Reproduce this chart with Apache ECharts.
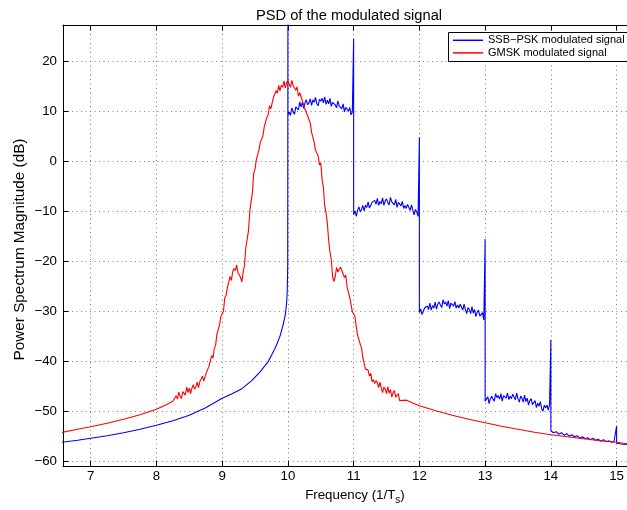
<!DOCTYPE html>
<html><head><meta charset="utf-8">
<script src="https://cdn.jsdelivr.net/npm/echarts@6/dist/echarts.min.js"></script>
<style>html,body{margin:0;padding:0;background:#fff}#c{width:627px;height:510px}</style>
</head><body><div id="c"></div>
<script>
const FONT = '"Liberation Sans", Arial, Helvetica, sans-serif';
const titleText = 'PSD of the modulated signal';
const yName = 'Power Spectrum Magnitude (dB)';
const seriesNames = ['SSB\u2212PSK modulated signal', 'GMSK modulated signal'];
const xMin = 6.579, xMax = 15.157, yMin = -60.85, yMax = 27.24;

// ---- SSB-PSK (blue) ----
const ssbSkirtFreq = [6.5, 6.8, 7.0, 7.25, 7.5, 7.75, 8.0, 8.25, 8.5, 8.75, 9.0, 9.15, 9.3, 9.45, 9.58, 9.7, 9.78, 9.84, 9.885, 9.93, 9.96, 9.98, 9.99, 9.997];
const ssbSkirtDb   = [-56.2, -55.7, -55.3, -54.8, -54.2, -53.5, -52.7, -51.8, -50.7, -49.2, -47.3, -46.4, -45.4, -43.8, -42.0, -40.0, -38.0, -36.3, -34.7, -32.5, -30.7, -28.4, -26.0, -21.0];
const ssbSpikeFreq = [10, 11, 12, 13, 14, 15];
const ssbSpikeTopDb = [28, 24.5, 4.8, -15.5, -35.7, -52.9];
const ssbAfterSpikeDb = [9.3, -10.6, -30.2, -47.9, -53.8, -56.3];
const ssbBandStep = [0.02, 0.02, 0.02, 0.02, 0.04];
const ssbBand1Db = [9.8,9.2,10.7,9.9,9.4,10.9,10.8,10.3,11.9,10.9,11.8,10.6,11.7,12.3,11.3,11.7,12.5,11.2,12.3,11.8,12.8,11.5,11.1,12.4,12.0,12.6,11.7,12.9,11.4,12.2,11.5,12.6,11.0,11.8,12.1,11.3,10.7,12.1,11.1,11.4,10.5,11.5,9.9,10.8,10.9,10.0,10.8,9.3,9.8];
const ssbBand2Db = [-9.9,-11.0,-9.8,-9.1,-10.1,-9.6,-8.8,-9.9,-8.8,-9.2,-8.1,-9.3,-9.6,-8.2,-8.5,-7.8,-8.6,-7.4,-8.8,-8.0,-8.5,-7.3,-8.8,-7.9,-7.5,-8.2,-8.7,-7.2,-8.1,-7.8,-8.7,-7.6,-9.2,-8.2,-8.1,-8.9,-8.0,-9.4,-8.8,-9.4,-8.6,-8.9,-9.8,-8.7,-9.8,-10.7,-9.6,-10.1,-11.0];
const ssbBand3Db = [-29.5,-30.6,-30.8,-29.3,-29.6,-28.9,-29.6,-28.3,-29.7,-28.8,-29.3,-28.1,-29.5,-28.5,-28.1,-28.7,-29.2,-27.6,-28.5,-28.1,-28.9,-27.8,-29.4,-28.3,-28.2,-28.9,-28.0,-29.3,-28.7,-29.3,-28.5,-28.8,-29.7,-28.5,-29.6,-30.4,-29.2,-29.6,-30.4,-29.0,-30.3,-29.6,-31.0,-30.1,-29.7,-30.9,-30.7,-30.2,-31.7];
const ssbBand4Db = [-48.2,-47.0,-48.4,-47.4,-46.9,-47.5,-47.9,-46.4,-47.2,-46.8,-47.5,-46.4,-47.9,-46.8,-46.6,-47.3,-46.3,-47.6,-46.9,-47.4,-46.5,-46.8,-47.6,-46.3,-47.4,-48.1,-46.9,-47.3,-48.1,-46.7,-48.0,-47.3,-48.7,-47.8,-47.4,-48.6,-48.4,-47.8,-49.2,-48.3,-48.9,-48.0,-49.4,-49.9,-48.7,-49.2,-48.7,-49.7,-48.6];
const ssbBand5Db = [-54.2,-54.0,-54.5,-54.2,-54.7,-54.4,-54.9,-54.6,-55.0,-54.8,-55.3,-55.0,-55.4,-55.2,-55.6,-55.3,-55.7,-55.5,-55.9,-55.6,-56.0,-55.8,-56.1,-56.0];
const ssbEndFreq = [15.1, 15.4];
const ssbEndDb = [-56.5, -56.8];

// ---- GMSK (red) ----
const gmskLeftFreq = [6.5, 6.8, 7.0, 7.25, 7.5, 7.75, 8.0, 8.15, 8.25];
const gmskLeftDb   = [-54.3, -53.5, -53.0, -52.3, -51.5, -50.6, -49.5, -48.6, -47.9];
const gmskNoisyStart = 8.30, gmskNoisyStep = 0.02;
const gmskNoisyDb = [
-46.8,-47.5,-46.1,-46.9,-47.4,-46.0,-46.2,-46.7,-45.1,-46.2,
-45.3,-46.4,-45.3,-44.6,-45.5,-45.0,-44.1,-45.2,-44.0,-44.2,
-42.9,-43.9,-43.9,-42.2,-42.1,-40.9,-40.9,-38.8,-39.3,-37.4,
-36.8,-34.5,-34.8,-32.7,-31.0,-30.5,-29.9,-27.2,-26.8,-25.2,
-25.0,-23.0,-23.8,-22.1,-21.4,-21.8,-20.7,-22.2,-21.9,-23.2,
-24.1,-22.0,-20.8,-17.2,-15.6,-13.9,-10.1,-8.0,-6.3,-2.4,
-1.5,0.4,0.2,2.3,3.8,3.6,5.1,6.9,6.7,8.8,
9.3,11.1,10.5,10.8,12.8,13.0,14.1,13.6,15.2,14.1,
15.2,14.8,16.1,14.7,15.7,16.1,15.4,14.8,16.2,15.1,
15.3,14.2,14.9,13.0,13.7,13.4,12.1,12.4,10.4,10.4,
9.1,9.0,7.7,5.8,6.0,3.8,2.2,2.5,1.1,-0.7,
-0.3,-3.6,-5.2,-8.9,-10.3,-12.3,-15.8,-18.1,-19.7,-23.0,
-24.0,-23.0,-21.2,-22.1,-22.3,-21.1,-21.8,-21.7,-23.2,-22.7,
-25.1,-25.3,-27.1,-27.3,-30.0,-30.2,-31.0,-33.0,-34.7,-34.4,
-36.5,-37.3,-39.2,-39.1,-41.5,-41.3,-41.7,-42.9,-42.3,-44.0,
-43.6,-44.4,-43.8,-44.2,-45.2,-44.1,-45.3,-46.2,-45.1,-45.5,
-46.4,-45.0,-46.3,-45.6,-47.1,-46.2,-45.8,-47.1,-47.0,-46.4,
-47.8];
const gmskRightFreq = [11.8, 12.0, 12.25, 12.5, 12.75, 13.0, 13.25, 13.5, 13.75, 14.0, 14.25, 14.5, 14.75, 15.0, 15.2, 15.4];
const gmskRightDb   = [-47.7, -48.8, -49.8, -50.7, -51.5, -52.2, -52.9, -53.5, -54.1, -54.6, -55.0, -55.4, -55.8, -56.1, -56.5, -56.8];

// ---- build point lists ----
function pairs(f, v) { return f.map((x, i) => [x, v[i]]); }
const ssbBands = [ssbBand1Db, ssbBand2Db, ssbBand3Db, ssbBand4Db, ssbBand5Db];
const ssbData = pairs(ssbSkirtFreq, ssbSkirtDb);
ssbSpikeFreq.forEach((f, k) => {
  ssbData.push([f, ssbSpikeTopDb[k]]);
  ssbData.push([f, ssbAfterSpikeDb[k]]);
  const band = ssbBands[k];
  if (band) band.forEach((v, i) => ssbData.push([+(f + ssbBandStep[k] * (i + 1)).toFixed(3), v]));
});
pairs(ssbEndFreq, ssbEndDb).forEach(p => ssbData.push(p));

const gmskData = pairs(gmskLeftFreq, gmskLeftDb);
gmskNoisyDb.forEach((v, i) => gmskData.push([+(gmskNoisyStart + gmskNoisyStep * i).toFixed(3), v]));
pairs(gmskRightFreq, gmskRightDb).forEach(p => gmskData.push(p));

const minus = v => (v < 0 ? '\u2212' + Math.abs(v) : String(v));
const axisLineStyle = { color: '#000', width: 1 };
const gridLine = { show: true, lineStyle: { color: '#808080', width: 1, type: [1, 3.5] } };

const chart = echarts.init(document.getElementById('c'), null, { renderer: 'canvas' });
chart.setOption({
  animation: false,
  backgroundColor: '#fff',
  textStyle: { fontFamily: FONT },
  grid: { left: 63, top: 25, right: 0, bottom: 42, containLabel: false },
  graphic: [{
    type: 'text', x: 349, y: 16, z: 10,
    style: { text: titleText, fontSize: 14.7, fontFamily: FONT, fill: '#000', textAlign: 'center', textVerticalAlign: 'middle' }
  }, {
    type: 'rect', z: 3.5,
    shape: { x: 448.5, y: 32.5, width: 200, height: 29 },
    style: { fill: '#fff', stroke: '#000', lineWidth: 1 }
  }],
  legend: {
    left: 448, top: 32, orient: 'vertical', z: 5,
    backgroundColor: 'transparent', borderWidth: 0,
    padding: [2, 2, 2, 5], itemGap: 0, itemWidth: 30, itemHeight: 1.5, icon: 'rect',
    textStyle: { fontSize: 11, fontFamily: FONT, color: '#000', lineHeight: 12.6 },
    data: seriesNames
  },
  xAxis: [{
    type: 'value', min: xMin, max: xMax, splitNumber: 9, position: 'bottom',
    axisLine: { onZero: false, lineStyle: axisLineStyle },
    axisTick: { inside: true, length: 5.5, lineStyle: { color: '#000' } },
    axisLabel: { color: '#000', fontSize: 13.3, fontFamily: FONT, margin: 4, showMinLabel: false, showMaxLabel: false },
    splitLine: gridLine,
    name: '{m|Frequency (1/T}{s|s}{m|)}', nameLocation: 'middle', nameGap: 19, nameMoveOverlap: false,
    nameTextStyle: {
      padding: [0, 0, 0, 20],
      rich: {
        m: { fontSize: 13.3, fontFamily: FONT, color: '#000', lineHeight: 20 },
        s: { fontSize: 10, fontFamily: FONT, color: '#000', lineHeight: 10, verticalAlign: 'bottom' }
      }
    }
  }, {
    type: 'value', min: xMin, max: xMax, splitNumber: 9, position: 'top',
    axisLine: { onZero: false, lineStyle: axisLineStyle },
    axisTick: { inside: true, length: 5.5, lineStyle: { color: '#000' } },
    axisLabel: { show: false }, splitLine: { show: false }
  }],
  yAxis: [{
    type: 'value', min: yMin, max: yMax, splitNumber: 9, position: 'left',
    axisLine: { onZero: false, lineStyle: axisLineStyle },
    axisTick: { inside: true, length: 5.5, lineStyle: { color: '#000' } },
    axisLabel: { color: '#000', fontSize: 13.3, fontFamily: FONT, margin: 6, showMinLabel: false, showMaxLabel: false, formatter: minus },
    splitLine: gridLine,
    name: yName, nameLocation: 'middle', nameGap: 36, nameMoveOverlap: false,
    nameTextStyle: { fontSize: 15.3, fontFamily: FONT, color: '#000', padding: [0, 8, 0, 0] }
  }],
  series: [{
    name: seriesNames[0], type: 'line', xAxisIndex: 0, yAxisIndex: 0,
    data: ssbData, symbol: 'none', showSymbol: false, clip: true, z: 2,
    lineStyle: { color: '#0000ff', width: 1.1 }, itemStyle: { color: '#0000ff' }
  }, {
    name: seriesNames[1], type: 'line', xAxisIndex: 0, yAxisIndex: 0,
    data: gmskData, symbol: 'none', showSymbol: false, clip: true, z: 3,
    lineStyle: { color: '#ff0000', width: 1.1 }, itemStyle: { color: '#ff0000' }
  }]
});
</script></body></html>
